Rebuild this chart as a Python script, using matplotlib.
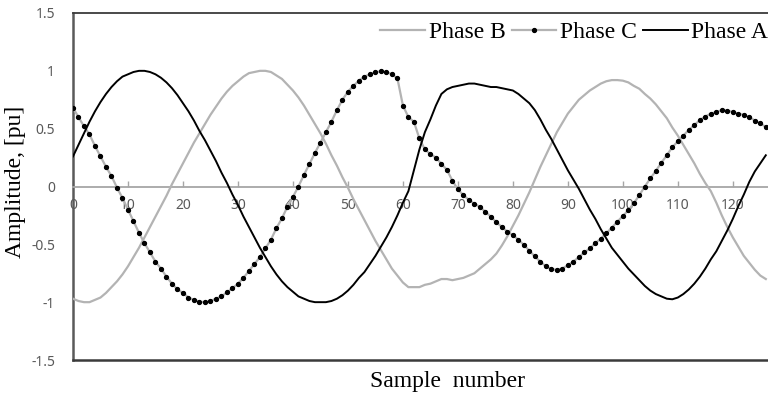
import numpy as np
import matplotlib
matplotlib.use("Agg")
import matplotlib.pyplot as plt

# amplitude in pu, one value per sample
phase_a = [0.26, 0.36, 0.46, 0.56, 0.65, 0.73, 0.80, 0.86, 0.91, 0.95,
           0.97, 0.99, 1.00, 1.00, 0.99, 0.97, 0.94, 0.90, 0.85, 0.79,
           0.72, 0.65, 0.57, 0.48, 0.40, 0.31, 0.22, 0.12, 0.03, -0.07,
           -0.16, -0.26, -0.35, -0.44, -0.53, -0.61, -0.69, -0.76, -0.82, -0.87,
           -0.91, -0.95, -0.97, -0.99, -1.00, -1.00, -1.00, -0.99, -0.97, -0.94,
           -0.90, -0.85, -0.79, -0.74, -0.67, -0.60, -0.52, -0.44, -0.35, -0.25,
           -0.14, -0.04, 0.14, 0.32, 0.47, 0.58, 0.70, 0.80, 0.84, 0.86,
           0.87, 0.88, 0.89, 0.89, 0.88, 0.87, 0.86, 0.86, 0.85, 0.84,
           0.83, 0.80, 0.76, 0.72, 0.66, 0.58, 0.49, 0.41, 0.32, 0.23,
           0.14, 0.06, -0.02, -0.11, -0.20, -0.28, -0.37, -0.45, -0.53, -0.59,
           -0.65, -0.71, -0.76, -0.81, -0.86, -0.90, -0.93, -0.95, -0.97, -0.975,
           -0.96, -0.93, -0.89, -0.84, -0.78, -0.71, -0.63, -0.56, -0.47, -0.38,
           -0.28, -0.17, -0.07, 0.04, 0.13, 0.20, 0.27]

phase_b = [-0.97, -0.99, -1.00, -1.00, -0.98, -0.96, -0.92, -0.87, -0.82, -0.76,
           -0.69, -0.61, -0.53, -0.44, -0.35, -0.26, -0.17, -0.08, 0.02, 0.11,
           0.20, 0.29, 0.38, 0.46, 0.54, 0.62, 0.69, 0.76, 0.82, 0.87,
           0.91, 0.95, 0.98, 0.99, 1.00, 1.00, 0.99, 0.96, 0.93, 0.88,
           0.83, 0.77, 0.70, 0.62, 0.54, 0.46, 0.37, 0.27, 0.18, 0.08,
           -0.01, -0.11, -0.20, -0.29, -0.38, -0.47, -0.55, -0.63, -0.71, -0.77,
           -0.83, -0.87, -0.87, -0.87, -0.85, -0.84, -0.82, -0.80, -0.80, -0.81,
           -0.80, -0.79, -0.77, -0.75, -0.71, -0.67, -0.63, -0.58, -0.51, -0.43,
           -0.34, -0.25, -0.15, -0.05, 0.06, 0.17, 0.27, 0.37, 0.47, 0.55,
           0.63, 0.69, 0.75, 0.79, 0.83, 0.86, 0.89, 0.91, 0.92, 0.92,
           0.915, 0.90, 0.87, 0.845, 0.80, 0.76, 0.71, 0.65, 0.59, 0.51,
           0.44, 0.36, 0.28, 0.20, 0.11, 0.03, -0.04, -0.14, -0.25, -0.35,
           -0.44, -0.52, -0.60, -0.66, -0.72, -0.77, -0.80]

phase_c = [0.68, 0.60, 0.52, 0.45, 0.35, 0.26, 0.17, 0.09, -0.01, -0.10,
           -0.20, -0.30, -0.40, -0.49, -0.57, -0.65, -0.71, -0.78, -0.84, -0.89,
           -0.92, -0.96, -0.98, -0.995, -1.00, -0.99, -0.97, -0.95, -0.915, -0.88,
           -0.84, -0.79, -0.73, -0.67, -0.61, -0.535, -0.46, -0.36, -0.275, -0.175,
           -0.09, 0.00, 0.10, 0.195, 0.29, 0.38, 0.47, 0.56, 0.66, 0.75,
           0.82, 0.87, 0.915, 0.95, 0.97, 0.99, 0.995, 0.99, 0.97, 0.935,
           0.70, 0.60, 0.56, 0.415, 0.32, 0.28, 0.25, 0.195, 0.145, 0.05,
           -0.025, -0.075, -0.115, -0.15, -0.175, -0.22, -0.26, -0.31, -0.35, -0.39,
           -0.42, -0.46, -0.505, -0.555, -0.605, -0.65, -0.69, -0.715, -0.72, -0.71,
           -0.68, -0.65, -0.61, -0.57, -0.535, -0.49, -0.45, -0.405, -0.355, -0.305,
           -0.255, -0.205, -0.145, -0.075, 0.00, 0.07, 0.135, 0.205, 0.27, 0.34,
           0.39, 0.44, 0.49, 0.53, 0.575, 0.605, 0.63, 0.645, 0.66, 0.655,
           0.645, 0.63, 0.62, 0.60, 0.57, 0.545, 0.515]

samples = np.arange(len(phase_a))
x_ticks = list(range(0, 121, 10))
y_ticks = [-1.5, -1, -0.5, 0, 0.5, 1, 1.5]
y_tick_labels = ["-1.5", "-1", "-0.5", "0", "0.5", "1", "1.5"]

serif = "Liberation Serif"
tick_font = "Noto Sans"

fig = plt.figure(figsize=(7.68, 3.94), dpi=100)
ax = fig.add_axes([73 / 768, 1 - 360 / 394, 1 - 73 / 768, (360 - 13) / 394])

ax.plot(samples, phase_b, color="#b3b3b3", lw=1.6, label="Phase B", zorder=3)
ax.plot(samples, phase_c, color="#b3b3b3", lw=1.6, marker="o", markersize=2.8,
        markerfacecolor="black", markeredgecolor="black", label="Phase C", zorder=3)
ax.plot(samples, phase_a, color="black", lw=1.4, label="Phase A", zorder=4)

ax.set_xlim(0, 126.4)
ax.set_ylim(-1.5, 1.5)

# zero line carries the x ticks, box drawn top / bottom / left
ax.spines["bottom"].set_position(("data", 0))
ax.spines["bottom"].set_color("#a6a6a6")
ax.spines["bottom"].set_linewidth(1.3)
ax.spines["right"].set_visible(False)
ax.spines["top"].set_color("#3a3a3a")
ax.spines["top"].set_linewidth(1.3)
ax.spines["left"].set_color("#5a5a5a")
ax.spines["left"].set_linewidth(1.8)
ax.axhline(-1.5, color="#3a3a3a", lw=1.8, clip_on=False, zorder=5)

ax.set_xticks(x_ticks)
ax.set_xticklabels([str(t) for t in x_ticks])
ax.set_yticks(y_ticks)
ax.set_yticklabels(y_tick_labels)
ax.tick_params(axis="x", direction="in", length=4, width=1, color="#a6a6a6",
               pad=8, labelsize=10, labelcolor="#595959")
ax.tick_params(axis="y", length=0, pad=13, labelsize=10, labelcolor="#595959")
for lab in ax.get_xticklabels() + ax.get_yticklabels():
    lab.set_family(tick_font)

fig.text(16 / 768, 1 - 182 / 394, "Amplitude, [pu]", rotation=90, ha="center",
         va="center", family=serif, fontsize=17)
fig.text(448 / 768, 1 - 381 / 394, "Sample  number", ha="center", va="center",
         family=serif, fontsize=17)

ax.legend(loc="center right", bbox_to_anchor=(1.0, 1 - 32 / 394),
          bbox_transform=fig.transFigure, ncol=3, frameon=False,
          prop={"family": serif, "size": 17}, handlelength=1.9,
          handletextpad=0.15, columnspacing=0.25, borderpad=0, borderaxespad=0,
          numpoints=1)

fig.savefig("out.png", dpi=100)
